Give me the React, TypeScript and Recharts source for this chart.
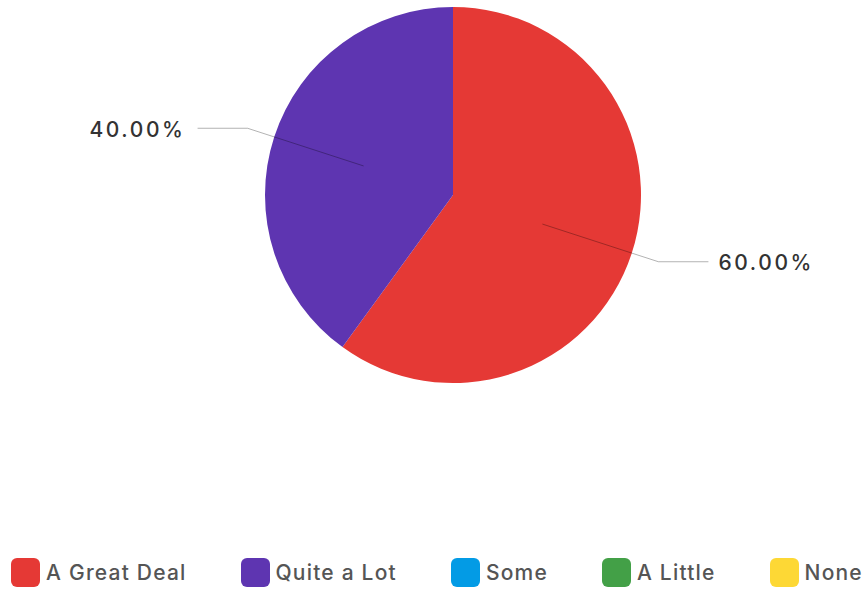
import React from "react";
import { PieChart, Pie, Cell, Legend } from "recharts";

const categories = ["A Great Deal", "Quite a Lot", "Some", "A Little", "None"];
const shares = [60, 40, 0, 0, 0];
const colors = ["#e53935", "#5e35b1", "#039be5", "#43a047", "#fdd835"];

const data = categories.map((name, i) => ({ name, value: shares[i] }));

const RAD = Math.PI / 180;

function SliceLabel(props: any) {
  const { cx, cy, midAngle, outerRadius, percent } = props;
  if (!percent) return null;
  const cos = Math.cos(-midAngle * RAD);
  const sin = Math.sin(-midAngle * RAD);
  const sx = cx + outerRadius * 0.5 * cos;
  const sy = cy + outerRadius * 0.5 * sin;
  const mx = cx + (outerRadius + 28) * cos;
  const my = cy + (outerRadius + 28) * sin;
  const right = cos >= 0;
  const ex = mx + (right ? 50 : -50);
  return (
    <g>
      <path
        d={`M${sx},${sy}L${mx},${my}L${ex},${my}`}
        stroke="rgba(0,0,0,0.3)"
        strokeWidth={1}
        fill="none"
      />
      <text
        x={ex + (right ? 10 : -12)}
        y={my + 1}
        textAnchor={right ? "start" : "end"}
        dominantBaseline="central"
        fill="#333"
        fontSize={21}
        fontWeight={500}
        letterSpacing={2.6}
        fontFamily="Inter, sans-serif"
      >
        {(percent * 100).toFixed(2)}%
      </text>
    </g>
  );
}

function LegendBox() {
  return (
    <div
      style={{
        display: "flex",
        justifyContent: "center",
        gap: 54,
        paddingLeft: 6,
        fontFamily: "Inter, sans-serif",
        fontSize: 21,
        fontWeight: 500,
        letterSpacing: 1.2,
        color: "#555",
      }}
    >
      {categories.map((c, i) => (
        <div key={c} style={{ display: "flex", alignItems: "center", gap: 6 }}>
          <span
            style={{
              width: 29,
              height: 29,
              borderRadius: 6,
              background: colors[i],
              display: "inline-block",
            }}
          />
          <span>{c}</span>
        </div>
      ))}
    </div>
  );
}

export default function App() {
  return (
    <div style={{ position: "absolute", left: 0, top: 0, background: "#fff" }}>
      <PieChart width={868} height={589} margin={{ top: 0, right: 0, bottom: 0, left: 0 }}>
        <Pie
          data={data}
          dataKey="value"
          nameKey="name"
          cx={453}
          cy={195}
          outerRadius={188}
          startAngle={90}
          endAngle={-270}
          stroke="none"
          label={SliceLabel}
          labelLine={false}
          isAnimationActive={false}
        >
          {data.map((d, i) => (
            <Cell key={d.name} fill={colors[i]} />
          ))}
        </Pie>
        <Legend
          verticalAlign="bottom"
          content={() => <LegendBox />}
          wrapperStyle={{ bottom: 2, left: 0, width: 868 }}
        />
      </PieChart>
    </div>
  );
}
